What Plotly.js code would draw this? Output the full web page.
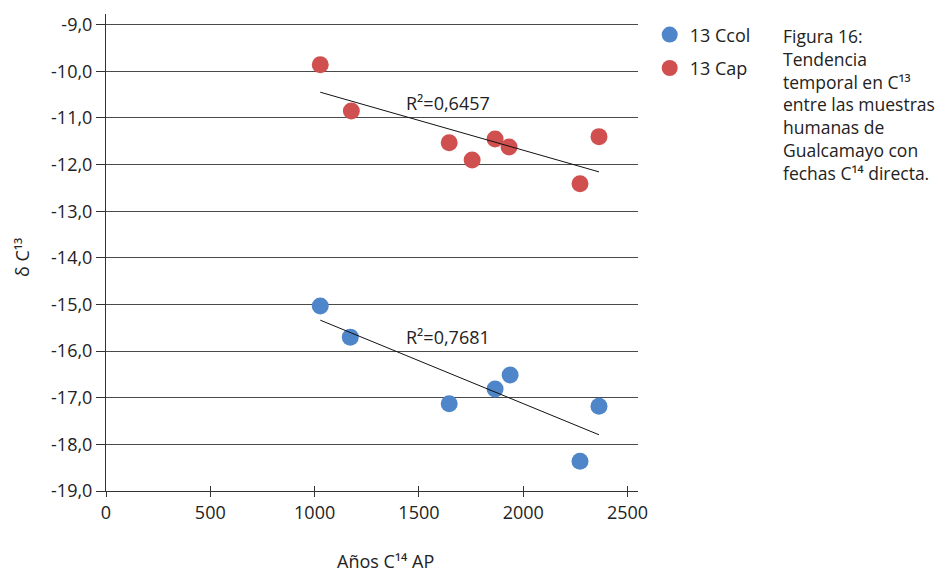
<!DOCTYPE html>
<html>
<head>
<meta charset="utf-8">
<script src="https://cdn.plot.ly/plotly-3.0.1.min.js"></script>
<style>html,body{margin:0;padding:0;background:#fff}#chart{width:943px;height:573px}</style>
</head>
<body>
<div id="chart"></div>
<script>
// Data
const ccolYears = [1027, 1171, 1645, 1865, 1937, 2272, 2363];
const ccolValues = [-15.03, -15.70, -17.13, -16.81, -16.51, -18.36, -17.18];
const capYears = [1027, 1176, 1645, 1755, 1865, 1932, 2272, 2363];
const capValues = [-9.86, -10.85, -11.53, -11.90, -11.45, -11.62, -12.41, -11.40];
const seriesNames = ["13 Ccol", "13 Cap"];
const r2Labels = ["R²=0,7681", "R²=0,6457"];
const xTicks = [0, 500, 1000, 1500, 2000, 2500];
const yTicks = [-19, -18, -17, -16, -15, -14, -13, -12, -11, -10, -9];
const yTickText = ["-19,0", "-18,0", "-17,0", "-16,0", "-15,0", "-14,0", "-13,0", "-12,0", "-11,0", "-10,0", "-9,0"];

function linFit(xs, ys) {
  const n = xs.length;
  const mx = xs.reduce((a, b) => a + b, 0) / n;
  const my = ys.reduce((a, b) => a + b, 0) / n;
  let sxy = 0, sxx = 0;
  for (let i = 0; i < n; i++) { sxy += (xs[i] - mx) * (ys[i] - my); sxx += (xs[i] - mx) ** 2; }
  const m = sxy / sxx;
  const x0 = Math.min(...xs), x1 = Math.max(...xs);
  return { x: [x0, x1], y: [my + m * (x0 - mx), my + m * (x1 - mx)] };
}
const fitCcol = linFit(ccolYears, ccolValues);
const fitCap = linFit(capYears, capValues);

const FONT = "Open Sans, Noto Sans, sans-serif";
const BLUE = "#4f86c9";
const RED = "#d04f4f";

const traces = [
  { x: ccolYears, y: ccolValues, name: seriesNames[0], legendgroup: "a", type: "scatter", mode: "markers",
    marker: { color: BLUE, size: 17 } },
  { x: capYears, y: capValues, name: seriesNames[1], legendgroup: "b", type: "scatter", mode: "markers",
    marker: { color: RED, size: 17 } },
  { x: fitCcol.x, y: fitCcol.y, type: "scatter", mode: "lines", showlegend: false, hoverinfo: "skip",
    line: { color: "#111", width: 1 } },
  { x: fitCap.x, y: fitCap.y, type: "scatter", mode: "lines", showlegend: false, hoverinfo: "skip",
    line: { color: "#111", width: 1 } },
  // invisible trace on overlay axis to draw the upper half of x tick marks
  { x: [0], y: [-19], xaxis: "x2", type: "scatter", mode: "markers", showlegend: false,
    hoverinfo: "skip", marker: { opacity: 0 } }
];

const plotW = 943 - 106 - 305, plotH = 573 - 14 - 82;

const layout = {
  width: 943, height: 573,
  margin: { l: 106, r: 305, t: 14, b: 82 },
  paper_bgcolor: "#fff", plot_bgcolor: "#fff",
  separators: ",.",
  font: { family: FONT, size: 18, color: "#222" },
  showlegend: true,
  legend: { x: 1.022, y: 0.995, xanchor: "left", yanchor: "top", bgcolor: "rgba(0,0,0,0)",
    font: { family: FONT, size: 18, color: "#222" }, itemwidth: 30, tracegroupgap: 7 },
  xaxis: {
    range: [0, 2550], tickvals: xTicks, ticktext: xTicks.map(String),
    showgrid: false, zeroline: false, showline: true, linecolor: "#333", linewidth: 1,
    ticks: "outside", ticklen: 5, tickcolor: "#333", tickwidth: 1,
    tickfont: { family: FONT, size: 18, color: "#222" }
  },
  xaxis2: {
    overlaying: "x", anchor: "y", side: "bottom", range: [0, 2550], tickvals: xTicks, showticklabels: false,
    showgrid: false, zeroline: false, showline: false,
    ticks: "inside", ticklen: 5, tickcolor: "#333", tickwidth: 1
  },
  yaxis: {
    range: [-19, -8.77], tickvals: yTicks, ticktext: yTickText,
    showgrid: true, gridcolor: "#4a4a4a", gridwidth: 1, zeroline: false,
    showline: true, linecolor: "#333", linewidth: 1,
    ticks: "outside", ticklen: 9, tickcolor: "#333", tickwidth: 1,
    tickfont: { family: FONT, size: 18, color: "#222" }
  },
  annotations: [
    { x: 1640, y: -15.70, xref: "x", yref: "y", text: r2Labels[0], showarrow: false,
      xanchor: "center", yanchor: "middle", font: { family: FONT, size: 18, color: "#222" } },
    { x: 1640, y: -10.67, xref: "x", yref: "y", text: r2Labels[1], showarrow: false,
      xanchor: "center", yanchor: "middle", font: { family: FONT, size: 18, color: "#222" } },
    { text: "Años C¹⁴ AP", xref: "paper", yref: "paper",
      x: (385 - 106) / plotW, y: (491 - 575) / plotH, xanchor: "center", yanchor: "bottom",
      showarrow: false, font: { family: FONT, size: 18, color: "#222" } },
    { text: "δ C¹³", xref: "paper", yref: "paper",
      x: (22 - 106) / plotW, y: (491 - 258) / plotH, xanchor: "center", yanchor: "middle",
      showarrow: false, textangle: -90, font: { family: FONT, size: 18, color: "#222" } },
    { text: "Figura 16:<br>Tendencia<br>temporal en C¹³<br>entre las muestras<br>humanas de<br>Gualcamayo con<br>fechas C¹⁴ directa.",
      xref: "paper", yref: "paper", x: (781 - 106) / plotW, y: (491 - 22) / plotH, xanchor: "left", yanchor: "top",
      align: "left", showarrow: false, font: { family: FONT, size: 17.5, color: "#222" } }
  ]
};

Plotly.newPlot("chart", traces, layout, { displayModeBar: false, staticPlot: true });
</script>
</body>
</html>
